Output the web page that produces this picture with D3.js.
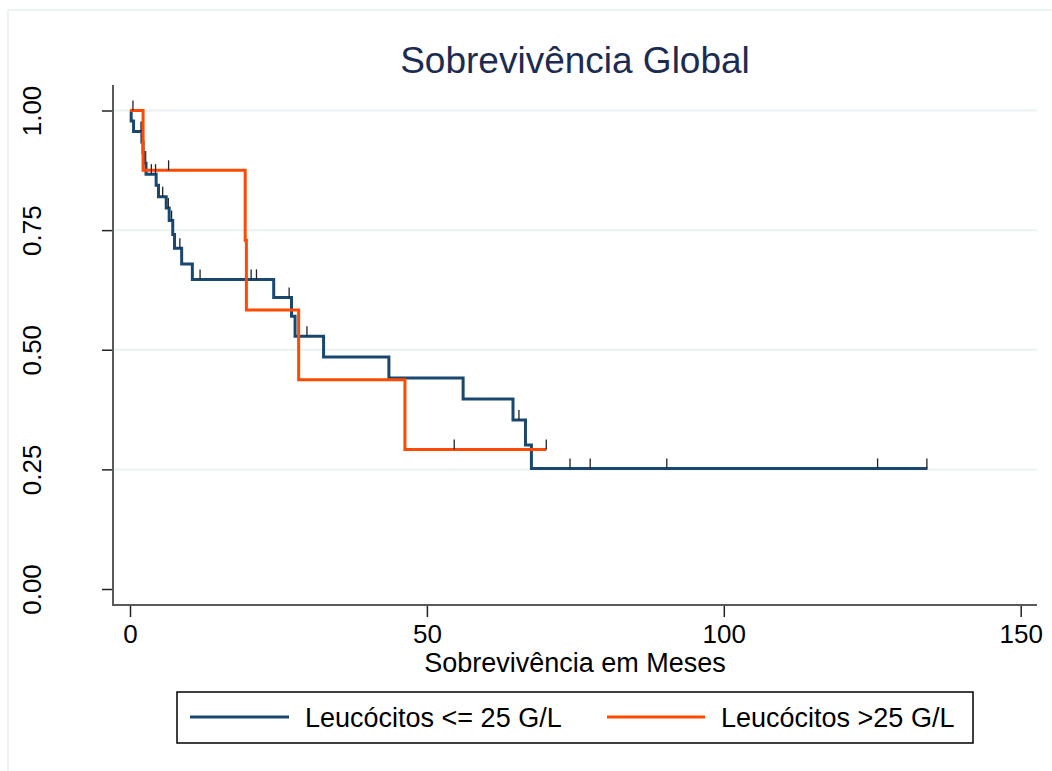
<!DOCTYPE html>
<html><head><meta charset="utf-8">
<script src="https://cdn.jsdelivr.net/npm/d3@7"></script>
<style>body{margin:0;background:#fff}svg{display:block}text{font-family:"Liberation Sans",Arial,sans-serif}</style>
</head><body><svg id="c" width="1052" height="771"></svg>
<script>
// ---- data ----
const xTicks = [0, 50, 100, 150];
const yTicks = [0, 0.25, 0.5, 0.75, 1];
const yTickLabels = ["0.00", "0.25", "0.50", "0.75", "1.00"];
const gridTicks = [0.25, 0.5, 0.75, 1];
const groupNames = ["Leucócitos <= 25 G/L", "Leucócitos >25 G/L"];
const title = "Sobrevivência Global";
const xTitle = "Sobrevivência em Meses";

const navyTimes = [0, 0.2, 0.6, 2.0, 2.2, 2.5, 2.7, 4.4, 4.8, 6.1, 6.6, 7.2, 7.5, 8.7, 10.5, 24.2, 27.2, 27.8, 32.6, 43.6, 56.1, 64.5, 66.6, 67.6];
const navySurv  = [1, 0.978, 0.956, 0.934, 0.912, 0.890, 0.867, 0.844, 0.820, 0.796, 0.770, 0.741, 0.712, 0.679, 0.647, 0.609, 0.570, 0.528, 0.485, 0.441, 0.397, 0.353, 0.301, 0.252];
const navyEnd = 134.3;
const navyCensored = [1.85, 3.6, 4.3, 5.5, 6.45, 7.0, 8.4, 11.8, 20.4, 21.3, 26.8, 29.8, 65.5, 74.1, 77.5, 90.4, 125.9, 134.2];

const orangeTimes = [0, 2.2, 19.4, 19.6, 28.4, 46.3];
const orangeSurv  = [1, 0.875, 0.729, 0.583, 0.4375, 0.2917];
const orangeEnd = 70.1;
const orangeCensored = [0.5, 6.5, 54.6, 70.1];

const colors = ["#1a476f", "#ff4a00"];

// ---- drawing ----
const svg = d3.select("#c");
const x = d3.scaleLinear().domain([0, 150]).range([130, 1020.7]);
const y = d3.scaleLinear().domain([0, 1]).range([589, 110.5]);
const plotLeft = 113, plotRight = 1037, plotTop = 85, plotBottom = 605;

// outer frame
svg.append("rect").attr("x", 8).attr("y", 10).attr("width", 1200).attr("height", 900)
  .attr("fill", "none").attr("stroke", "#e8f0f2").attr("stroke-width", 1.5);

// gridlines
svg.append("g").selectAll("line").data(gridTicks).join("line")
  .attr("x1", plotLeft).attr("x2", plotRight)
  .attr("y1", d => y(d)).attr("y2", d => y(d))
  .attr("stroke", "#eaf2f3").attr("stroke-width", 2);

// axes
const gx = svg.append("g").attr("transform", `translate(0,${plotBottom})`)
  .call(d3.axisBottom(x).tickValues(xTicks).tickSize(12).tickSizeOuter(0).tickFormat(d3.format("d")));
gx.select(".domain").remove();
gx.selectAll(".tick line").attr("stroke", "#222").attr("stroke-width", 1.5);
gx.selectAll(".tick text").attr("font-size", 26).attr("fill", "#000").attr("y", 20).attr("dy", "0.71em")
  .style("font-family", '"Liberation Sans",Arial,sans-serif');

const gy = svg.append("g").attr("transform", `translate(${plotLeft},0)`)
  .call(d3.axisLeft(y).tickValues(yTicks).tickSize(11).tickSizeOuter(0).tickFormat((d, i) => yTickLabels[i]));
gy.select(".domain").remove();
gy.selectAll(".tick line").attr("stroke", "#222").attr("stroke-width", 1.5);
gy.selectAll(".tick text").remove();
gy.selectAll(".tick").append("text")
  .attr("transform", "translate(-72,0) rotate(-90)")
  .attr("text-anchor", "middle").attr("font-size", 26).attr("fill", "#000")
  .text((d, i) => yTickLabels[i]);

svg.append("line").attr("x1", plotLeft).attr("x2", plotLeft).attr("y1", plotTop).attr("y2", plotBottom + 1)
  .attr("stroke", "#5a5a5a").attr("stroke-width", 2);
svg.append("line").attr("x1", plotLeft - 1).attr("x2", plotRight).attr("y1", plotBottom).attr("y2", plotBottom)
  .attr("stroke", "#5a5a5a").attr("stroke-width", 2);

// curves
const line = d3.line().x(d => x(d[0])).y(d => y(d[1])).curve(d3.curveStepAfter);
function pts(times, surv, end) {
  const p = times.map((t, i) => [t, surv[i]]);
  p.push([end, surv[surv.length - 1]]);
  return p;
}
function survAt(times, surv, t) {
  const i = d3.bisectRight(times, t) - 1;
  return surv[Math.max(0, i)];
}
const series = [
  {times: navyTimes, surv: navySurv, end: navyEnd, cens: navyCensored, color: colors[0]},
  {times: orangeTimes, surv: orangeSurv, end: orangeEnd, cens: orangeCensored, color: colors[1]}
];
series.forEach(s => {
  svg.append("path").attr("d", line(pts(s.times, s.surv, s.end)))
    .attr("fill", "none").attr("stroke", s.color).attr("stroke-width", 3).attr("stroke-linejoin", "miter");
});
series.forEach(s => {
  svg.append("g").selectAll("line").data(s.cens).join("line")
    .attr("x1", d => x(d)).attr("x2", d => x(d))
    .attr("y1", d => y(survAt(s.times, s.surv, d)))
    .attr("y2", d => y(survAt(s.times, s.surv, d)) - 10)
    .attr("stroke", "#222").attr("stroke-width", 1.3);
});

// title
svg.append("text").attr("x", 575).attr("y", 73).attr("text-anchor", "middle")
  .attr("font-size", 37).attr("fill", "#1c2b52").text(title);
// x title
svg.append("text").attr("x", 575).attr("y", 672).attr("text-anchor", "middle")
  .attr("font-size", 27).attr("fill", "#000").text(xTitle);

// legend
const lg = svg.append("g");
lg.append("rect").attr("x", 177).attr("y", 692).attr("width", 796).attr("height", 51)
  .attr("fill", "#fff").attr("stroke", "#000").attr("stroke-width", 1.5);
const legItems = [{x1: 190, x2: 289, tx: 305}, {x1: 607, x2: 705, tx: 721}];
legItems.forEach((it, i) => {
  lg.append("line").attr("x1", it.x1).attr("x2", it.x2).attr("y1", 717).attr("y2", 717)
    .attr("stroke", colors[i]).attr("stroke-width", 3);
  lg.append("text").attr("x", it.tx).attr("y", 727).attr("font-size", 27).attr("fill", "#000").text(groupNames[i]);
});
</script></body></html>
